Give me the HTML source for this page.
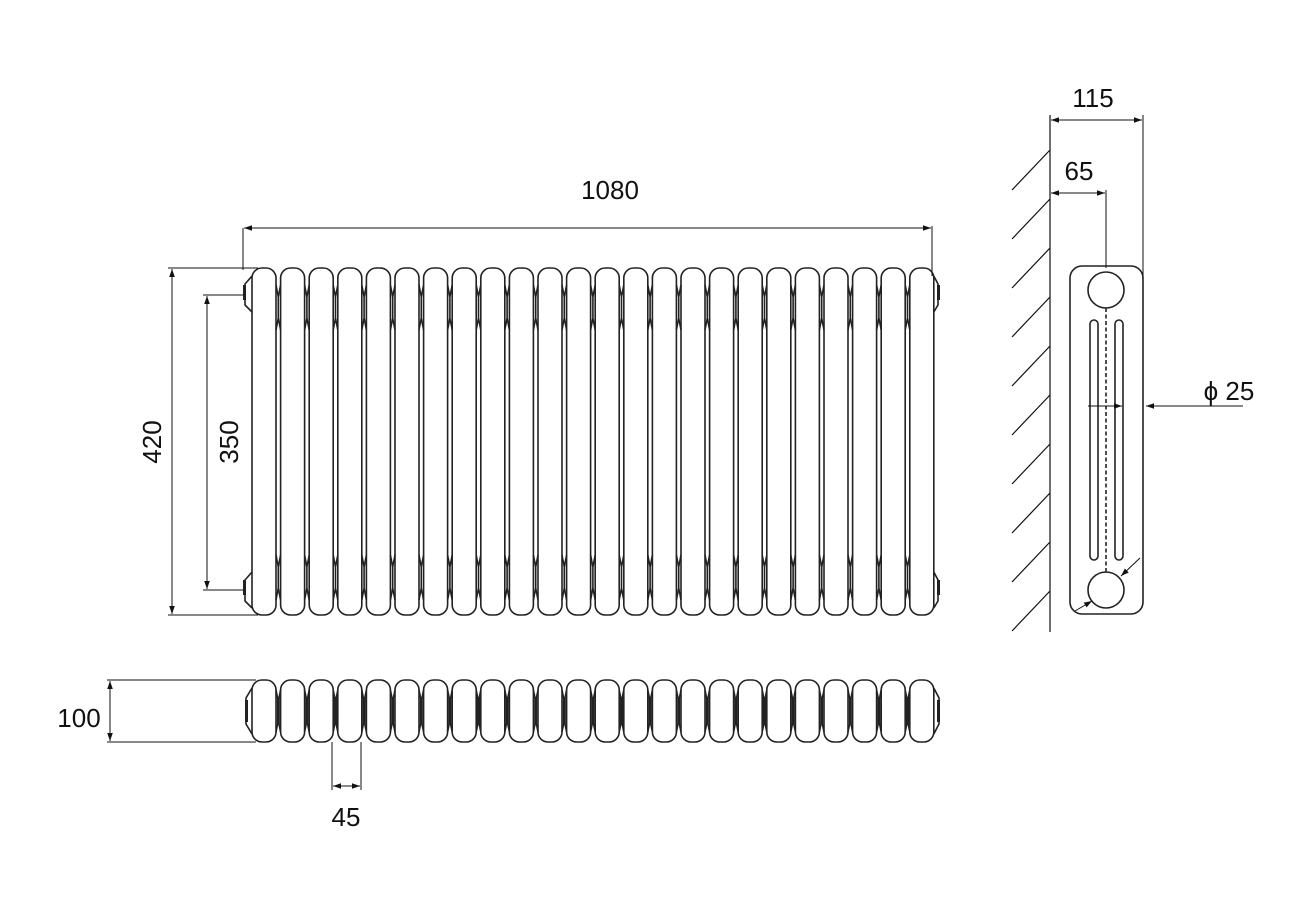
<!DOCTYPE html>
<html><head><meta charset="utf-8"><style>
html,body{margin:0;padding:0;background:#fff;}
svg{display:block;}
text{font-family:"Liberation Sans",Arial,sans-serif;fill:#111;}
</style></head><body>
<svg width="1300" height="900" viewBox="0 0 1300 900" xmlns="http://www.w3.org/2000/svg">
<defs>
<g id="col" fill="none" stroke="#222" stroke-width="1.6">
<rect x="0" y="268" width="24" height="347" rx="10"/>
<path d="M24,285 L26.3,297 L28.6,285 M24,330 L26.3,318 L28.6,330 M26.3,297 V318"/>
<path d="M24,555 L26.3,567 L28.6,555 M24,600 L26.3,588 L28.6,600 M26.3,567 V588"/>
</g>
<g id="bcol" fill="none" stroke="#222" stroke-width="1.6">
<rect x="0" y="680" width="24" height="62" rx="10"/>
<path d="M24,690 L25.6,698 V724 L24,732 M28.6,690 L27,698 V724 L28.6,732"/>
</g>
<marker id="a" viewBox="0 0 10 10" refX="10" refY="5" markerWidth="8" markerHeight="8" orient="auto-start-reverse"><path d="M0,1.5 L10,5 L0,8.5 Z" fill="#111"/></marker>
</defs>

<g>
<use href="#col" x="252"/><use href="#col" x="280.6"/><use href="#col" x="309.2"/><use href="#col" x="337.8"/>
<use href="#col" x="366.4"/><use href="#col" x="395"/><use href="#col" x="423.6"/><use href="#col" x="452.2"/>
<use href="#col" x="480.8"/><use href="#col" x="509.4"/><use href="#col" x="538"/><use href="#col" x="566.6"/>
<use href="#col" x="595.2"/><use href="#col" x="623.8"/><use href="#col" x="652.4"/><use href="#col" x="681"/>
<use href="#col" x="709.6"/><use href="#col" x="738.2"/><use href="#col" x="766.8"/><use href="#col" x="795.4"/>
<use href="#col" x="824"/><use href="#col" x="852.6"/><use href="#col" x="881.2"/>
<rect x="909.8" y="268" width="24" height="347" rx="10" fill="none" stroke="#222" stroke-width="1.6"/>
</g>
<g fill="none" stroke="#222" stroke-width="1.6">
<path d="M252,276 L245,284 V305 L252,312"/><path d="M252,572 L245,580 V601 L252,608"/>
<path d="M933.8,276 L938,284 V305 L933.8,312"/><path d="M933.8,572 L938,580 V601 L933.8,608"/>
</g>
<g fill="#222"><rect x="243" y="285" width="3" height="15"/><rect x="243" y="580" width="3" height="15"/>
<rect x="937" y="285" width="3" height="15"/><rect x="937" y="580" width="3" height="15"/></g>

<g stroke="#111" stroke-width="1" fill="none">
<line x1="243" y1="228" x2="243" y2="270"/><line x1="932" y1="226" x2="932" y2="276"/>
<line x1="244" y1="228" x2="931" y2="228" marker-start="url(#a)" marker-end="url(#a)"/>
<line x1="168" y1="268" x2="258" y2="268"/><line x1="168" y1="615" x2="258" y2="615"/>
<line x1="172" y1="269" x2="172" y2="614" marker-start="url(#a)" marker-end="url(#a)"/>
<line x1="203" y1="295" x2="243" y2="295"/><line x1="203" y1="590" x2="243" y2="590"/>
<line x1="207" y1="296" x2="207" y2="589" marker-start="url(#a)" marker-end="url(#a)"/>
</g>
<text x="610" y="199" font-size="26" text-anchor="middle">1080</text>
<text transform="translate(161,442) rotate(-90)" font-size="26" text-anchor="middle">420</text>
<text transform="translate(238,442) rotate(-90)" font-size="26" text-anchor="middle">350</text>

<g>
<use href="#bcol" x="252"/><use href="#bcol" x="280.6"/><use href="#bcol" x="309.2"/><use href="#bcol" x="337.8"/>
<use href="#bcol" x="366.4"/><use href="#bcol" x="395"/><use href="#bcol" x="423.6"/><use href="#bcol" x="452.2"/>
<use href="#bcol" x="480.8"/><use href="#bcol" x="509.4"/><use href="#bcol" x="538"/><use href="#bcol" x="566.6"/>
<use href="#bcol" x="595.2"/><use href="#bcol" x="623.8"/><use href="#bcol" x="652.4"/><use href="#bcol" x="681"/>
<use href="#bcol" x="709.6"/><use href="#bcol" x="738.2"/><use href="#bcol" x="766.8"/><use href="#bcol" x="795.4"/>
<use href="#bcol" x="824"/><use href="#bcol" x="852.6"/><use href="#bcol" x="881.2"/>
<rect x="909.8" y="680" width="24" height="62" rx="10" fill="none" stroke="#222" stroke-width="1.6"/>
</g>
<g fill="none" stroke="#222" stroke-width="1.6">
<path d="M252,688 L246,698 V724 L252,734"/><path d="M933.8,688 L939,698 V724 L933.8,734"/>
</g>
<rect x="245" y="700" width="3" height="22" fill="#222"/><rect x="937" y="700" width="3" height="22" fill="#222"/>
<g stroke="#111" stroke-width="1" fill="none">
<line x1="107" y1="680" x2="256" y2="680"/><line x1="107" y1="742" x2="256" y2="742"/>
<line x1="110" y1="681" x2="110" y2="741" marker-start="url(#a)" marker-end="url(#a)"/>
<line x1="332" y1="742" x2="332" y2="790"/><line x1="361" y1="742" x2="361" y2="790"/>
<line x1="333" y1="786" x2="360" y2="786" marker-start="url(#a)" marker-end="url(#a)"/>
</g>
<text x="79" y="727" font-size="26" text-anchor="middle">100</text>
<text x="346" y="826" font-size="26" text-anchor="middle">45</text>

<g stroke="#111" stroke-width="1.2" fill="none">
<line x1="1050" y1="115" x2="1050" y2="632"/>
<line x1="1050" y1="150" x2="1012" y2="190"/>
<line x1="1050" y1="199" x2="1012" y2="239"/>
<line x1="1050" y1="248" x2="1012" y2="288"/>
<line x1="1050" y1="297" x2="1012" y2="337"/>
<line x1="1050" y1="346" x2="1012" y2="386"/>
<line x1="1050" y1="395" x2="1012" y2="435"/>
<line x1="1050" y1="444" x2="1012" y2="484"/>
<line x1="1050" y1="493" x2="1012" y2="533"/>
<line x1="1050" y1="542" x2="1012" y2="582"/>
<line x1="1050" y1="591" x2="1012" y2="631"/>
</g>
<g stroke="#222" stroke-width="1.6" fill="none">
<rect x="1070" y="266" width="73" height="348" rx="12"/>
<circle cx="1106" cy="290" r="18"/><circle cx="1106" cy="590" r="18"/>
<rect x="1090" y="320" width="8" height="240" rx="4"/>
<rect x="1115" y="320" width="8" height="240" rx="4"/>
<line x1="1106" y1="308" x2="1106" y2="572" stroke-dasharray="4,2.5"/>
</g>
<g stroke="#111" stroke-width="1" fill="none">
<line x1="1143" y1="115" x2="1143" y2="278"/>
<line x1="1051" y1="120" x2="1142" y2="120" marker-start="url(#a)" marker-end="url(#a)"/>
<line x1="1106" y1="190" x2="1106" y2="268"/>
<line x1="1051" y1="193" x2="1105" y2="193" marker-start="url(#a)" marker-end="url(#a)"/>
<line x1="1088" y1="406" x2="1122" y2="406" marker-end="url(#a)"/>
<line x1="1243" y1="406" x2="1146" y2="406" marker-end="url(#a)"/>
<line x1="1140" y1="558" x2="1121" y2="576" marker-end="url(#a)"/>
<line x1="1075" y1="611" x2="1092" y2="601" marker-end="url(#a)"/>
</g>
<text x="1093" y="107" font-size="26" text-anchor="middle">115</text>
<text x="1079" y="180" font-size="26" text-anchor="middle">65</text>
<text x="1229" y="400" font-size="26" text-anchor="middle">ϕ 25</text>
</svg>
</body></html>
